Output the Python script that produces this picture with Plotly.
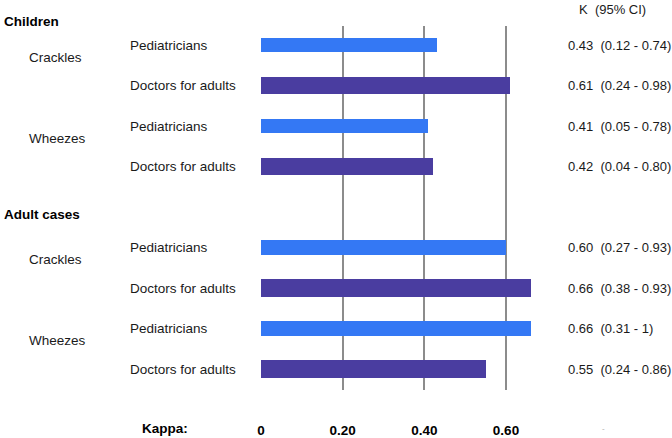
import plotly.graph_objects as go

# ---- data ----
groups = ["Children", "Children", "Children", "Children",
          "Adult cases", "Adult cases", "Adult cases", "Adult cases"]
signs = ["Crackles", "Crackles", "Wheezes", "Wheezes",
         "Crackles", "Crackles", "Wheezes", "Wheezes"]
raters = ["Pediatricians", "Doctors for adults", "Pediatricians", "Doctors for adults",
          "Pediatricians", "Doctors for adults", "Pediatricians", "Doctors for adults"]
kappa = [0.43, 0.61, 0.41, 0.42, 0.60, 0.66, 0.66, 0.55]
ci_low = ["0.12", "0.24", "0.05", "0.04", "0.27", "0.38", "0.31", "0.24"]
ci_high = ["0.74", "0.98", "0.78", "0.80", "0.93", "0.93", "1", "0.86"]
tick_vals = [0, 0.2, 0.4, 0.6]
tick_text = ["0", "0.20", "0.40", "0.60"]

colors = {"Pediatricians": "#3478F4", "Doctors for adults": "#4A3DA0"}
widths = {"Pediatricians": 0.36, "Doctors for adults": 0.42}

# slot positions: groups separated by one blank slot
slots = []
prev = None
pos = -1
for g in groups:
    pos += 1
    if prev is not None and g != prev:
        pos += 1
    slots.append(pos)
    prev = g

fig = go.Figure()
for r in ["Pediatricians", "Doctors for adults"]:
    idx = [i for i, rr in enumerate(raters) if rr == r]
    fig.add_trace(go.Bar(
        x=[kappa[i] for i in idx], y=[slots[i] for i in idx],
        orientation="h", width=widths[r],
        marker=dict(color=colors[r], line=dict(width=0)),
        showlegend=False, hoverinfo="x"))

FAM = "Liberation Sans, Arial, sans-serif"
font = dict(family=FAM, size=13.5, color="#1a1a1a")
vfont = dict(family=FAM, size=13, color="#1a1a1a")
bold = dict(family=FAM, size=13.5, color="#000000")
ann = []
for i in range(len(kappa)):
    ann.append(dict(x=128, y=slots[i], yref="y", text=raters[i],
                    showarrow=False, xanchor="left", font=font))
    ann.append(dict(x=566, y=slots[i], yref="y",
                    text=f"{kappa[i]:.2f}  ({ci_low[i]} - {ci_high[i]})",
                    showarrow=False, xanchor="left", font=vfont))

header_px = {"Children": 21, "Adult cases": 215}
seen_g = set()
seen_s = {}
for i in range(len(kappa)):
    if groups[i] not in seen_g:
        seen_g.add(groups[i])
        ann.append(dict(x=2, y=header_px[groups[i]], yref="paper", text=f"<b>{groups[i]}</b>",
                        showarrow=False, xanchor="left", font=bold))
    seen_s.setdefault((groups[i], signs[i]), []).append(slots[i])
for (g, s), ss in seen_s.items():
    ann.append(dict(x=27, y=min(ss) + 0.3, yref="y", text=s,
                    showarrow=False, xanchor="left", font=font))

ann.append(dict(x=577, y=10, yref="paper", text="K  (95% CI)", showarrow=False,
                xanchor="left", font=vfont))
ann.append(dict(x=140, y=428, yref="paper", text="<b>Kappa:</b>", showarrow=False,
                xanchor="left", font=bold))
ann.append(dict(x=603, y=428, yref="paper", text="-", showarrow=False,
                xanchor="center", font=dict(family=FAM, size=8, color="#aaaaaa")))

# convert pixel x (and pixel y for paper refs) to paper coordinates
W, H = 672, 438
L, R, T, B = 261, 136, 26, 48
pw, ph = W - L - R, H - T - B
for a in ann:
    a["xref"] = "paper"
    a["x"] = (a["x"] - L) / pw
    if a["yref"] == "paper":
        a["y"] = (H - a["y"] - B) / ph
    a["yanchor"] = "middle"

px_per_unit = (506 - 261) / 0.6
fig.update_layout(
    width=W, height=H, autosize=False,
    margin=dict(l=L, r=R, t=T, b=B, pad=0),
    plot_bgcolor="white", paper_bgcolor="white",
    bargap=0,
    annotations=ann,
    xaxis=dict(range=[0, pw / px_per_unit], tickvals=tick_vals,
               ticktext=[f"<b>{t}</b>" for t in tick_text],
               showgrid=True, gridcolor="#8c8c8c", gridwidth=2, zeroline=False,
               showline=False, ticks="", ticklabelstandoff=30, automargin=False,
               tickfont=dict(family=FAM, size=13.5, color="#000")),
    yaxis=dict(range=[(390 - 45) / 40.5, (26 - 45) / 40.5], showgrid=False, zeroline=False,
               showticklabels=False, ticks="", showline=False, automargin=False),
)
fig.write_html("out.html",
               config={"displayModeBar": False, "responsive": False},
               post_script="document.body.style.margin='0';document.body.style.overflow='hidden';")
